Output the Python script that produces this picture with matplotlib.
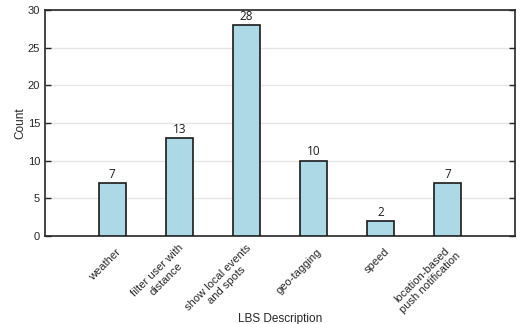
import matplotlib.pyplot as plt
import matplotlib.transforms as mtransforms
import numpy as np

plt.rcParams['font.family'] = ['Liberation Sans', 'DejaVu Sans']

labels = ['weather', 'filter user with\ndistance', 'show local events\nand spots',
          'geo-tagging', 'speed', 'location-based\npush notification']
counts = [7, 13, 28, 10, 2, 7]
yticks = [0, 5, 10, 15, 20, 25, 30]

fig = plt.figure(figsize=(5.2, 3.24), dpi=100)
ax = fig.add_axes([0.0865, 0.272, 0.9035, 0.697])

x = np.arange(1, len(counts) + 1)
bars = ax.bar(x, counts, width=0.4, color='#add8e6', edgecolor='#1a1a1a',
              linewidth=1.2, zorder=3)
for xi, c in zip(x, counts):
    ax.text(xi, c + 0.3, str(c), ha='center', va='bottom', fontsize=8.5,
            family=['Open Sans', 'DejaVu Sans'], color='#1a1a1a')

ax.set_xlim(0, 7)
ax.set_ylim(0, 30)
ax.set_yticks(yticks)
ax.set_xticks(x)
ax.set_xticklabels(labels, rotation=45, ha='right', va='center',
                   rotation_mode='anchor', multialignment='center',
                   fontsize=8, linespacing=1.2)
ax.tick_params(axis='x', length=0, pad=9, colors='#262626')
ax.tick_params(axis='y', direction='in', length=4, right=True, labelsize=8,
               colors='#262626', width=1)

# nudge rotated labels to the right of the tick
shift = mtransforms.ScaledTranslation(0.07, -0.02, fig.dpi_scale_trans)
for lbl in ax.get_xticklabels():
    lbl.set_transform(lbl.get_transform() + shift)

ax.yaxis.grid(True, color='#e6e6e6', linewidth=1, zorder=0)
for s in ax.spines.values():
    s.set_color('#262626')
    s.set_linewidth(1.2)

ax.set_ylabel('Count', fontsize=8.5, color='#262626', labelpad=1)
ax.set_xlabel('LBS Description', fontsize=8.5, color='#262626')
ax.xaxis.set_label_coords(0.5, -0.34)

fig.savefig('out.png', dpi=100)
